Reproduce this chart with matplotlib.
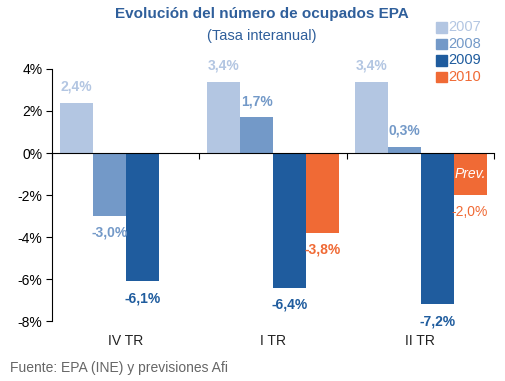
import matplotlib.pyplot as plt
import numpy as np

plt.rcParams['font.family'] = ['Liberation Sans', 'DejaVu Sans']

# datos
trimestres = ['IV TR', 'I TR', 'II TR']
anios = ['2007', '2008', '2009', '2010']
valores = {
    '2007': [2.4, 3.4, 3.4],
    '2008': [-3.0, 1.7, 0.3],
    '2009': [-6.1, -6.4, -7.2],
    '2010': [None, -3.8, -2.0],
}
colores = {
    '2007': '#b3c6e2',
    '2008': '#7399c8',
    '2009': '#1f5c9e',
    '2010': '#f06a35',
}
azul_titulo = '#2f5f9b'

fig = plt.figure(figsize=(5.06, 3.81), dpi=100)
ax = fig.add_axes([0.1028, 0.157, 0.873, 0.662])

ancho = 0.224
inicio = -0.5 + 0.055
x = np.arange(len(trimestres))

for j, anio in enumerate(anios):
    for i, v in enumerate(valores[anio]):
        if v is None:
            continue
        xc = x[i] + inicio + ancho * (j + 0.5)
        ax.bar(xc, v, width=ancho, color=colores[anio], linewidth=0)
        texto = f'{v:.1f}%'.replace('.', ',')
        peso = 'normal' if (anio == '2010' and i == 2) else 'bold'
        dy = 0.75 if v >= 0 else -0.8
        ax.text(xc, v + dy, texto, ha='center', va='center', fontsize=10,
                color=colores[anio], fontweight=peso)
        if anio == '2010' and i == 2:
            ax.text(xc, v / 2, 'Prev.', ha='center', va='center', fontsize=10,
                    color='white', style='italic')

ax.set_xlim(-0.5, 2.5)
ax.set_ylim(-8, 4)
ax.set_yticks([4, 2, 0, -2, -4, -6, -8])
ax.set_yticklabels(['4%', '2%', '0%', '-2%', '-4%', '-6%', '-8%'], fontsize=10)
ax.tick_params(axis='y', direction='out', length=4, width=0.8, pad=3)

ax.spines['top'].set_visible(False)
ax.spines['right'].set_visible(False)
ax.spines['bottom'].set_position(('data', 0))
ax.spines['left'].set_linewidth(0.8)
ax.spines['bottom'].set_linewidth(0.8)
ax.set_xticks([-0.5, 0.5, 1.5, 2.5])
ax.set_xticklabels([])
ax.tick_params(axis='x', direction='out', length=4, width=0.8)

trans = ax.get_xaxis_transform()
for i, t in enumerate(trimestres):
    ax.text(x[i], -0.08, t, transform=trans, ha='center', va='center',
            fontsize=10, color='#222222')

fig.text(0.518, 0.962, 'Evolución del número de ocupados EPA', ha='center',
         va='center', fontsize=11, fontweight='bold', color=azul_titulo)
fig.text(0.518, 0.905, '(Tasa interanual)', ha='center', va='center',
         fontsize=10.5, color=azul_titulo)

# leyenda
for j, anio in enumerate(anios):
    yy = 0.928 - j * 0.043
    fig.patches.append(plt.Rectangle((0.862, yy - 0.014), 0.021, 0.027,
                                     transform=fig.transFigure,
                                     color=colores[anio]))
    fig.text(0.886, yy, anio, ha='left', va='center', fontsize=10.5,
             color=colores[anio])

fig.text(0.02, 0.034, 'Fuente: EPA (INE) y previsiones Afi', ha='left',
         va='center', fontsize=10, color='#666666')

fig.savefig('out.png', dpi=100)
